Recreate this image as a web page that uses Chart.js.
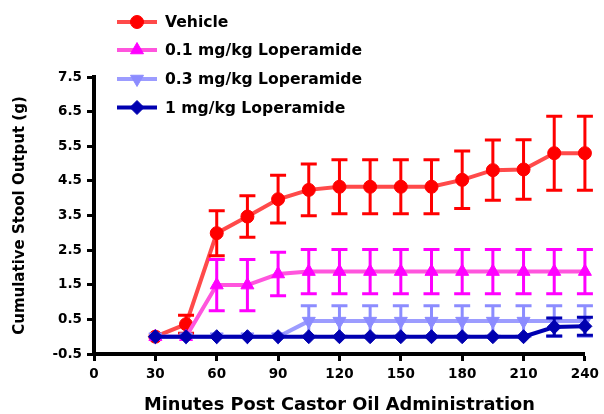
<!DOCTYPE html>
<html><head><meta charset="utf-8">
<script src="https://cdn.jsdelivr.net/npm/chart.js@4.4.1/dist/chart.umd.min.js"></script>
<style>html,body{margin:0;padding:0;background:#fff;}#wrap{width:604px;height:414px;}</style>
</head><body><div id="wrap"><canvas id="c" width="604" height="414"></canvas></div>
<script>
const minutes = [30,45,60,75,90,105,120,135,150,165,180,195,210,225,240];
const seriesLabels = ['Vehicle','0.1 mg/kg Loperamide','0.3 mg/kg Loperamide','1 mg/kg Loperamide'];
const vehicleMean = [0,0.36,2.99,3.47,3.97,4.24,4.33,4.33,4.33,4.33,4.53,4.81,4.83,5.30,5.30];
const vehicleSem  = [0,0.26,0.65,0.60,0.69,0.75,0.78,0.78,0.78,0.78,0.83,0.87,0.86,1.07,1.07];
const lop01Mean = [0,0,1.49,1.49,1.81,1.88,1.88,1.88,1.88,1.88,1.88,1.88,1.88,1.88,1.88];
const lop01Sem  = [0,0,0.74,0.74,0.63,0.64,0.64,0.64,0.64,0.64,0.64,0.64,0.64,0.64,0.64];
const lop03Mean = [0,0,0,0,0,0.45,0.45,0.45,0.45,0.45,0.45,0.45,0.45,0.45,0.45];
const lop03Sem  = [0,0,0,0,0,0.44,0.44,0.44,0.44,0.44,0.44,0.44,0.44,0.44,0.44];
const lop1Mean = [0,0,0,0,0,0,0,0,0,0,0,0,0,0.28,0.30];
const lop1Sem  = [0,0,0,0,0,0,0,0,0,0,0,0,0,0.26,0.26];
const xTicks = [0,30,60,90,120,150,180,210,240];
const yTicks = [-0.5,0.5,1.5,2.5,3.5,4.5,5.5,6.5,7.5];
const xTitle = 'Minutes Post Castor Oil Administration';
const yTitle = 'Cumulative Stool Output (g)';

const FONT = '"DejaVu Sans", sans-serif';
const pts = arr => minutes.map((m,i) => ({x:m, y:arr[i]}));

function mkDs(label, mean, sem, lineColor, markColor, style, radius, rotation, order){
  return {label, data: pts(mean), errors: sem, errorColor: markColor,
    borderColor: lineColor, backgroundColor: markColor, borderWidth: 4,
    pointStyle: style, pointRadius: radius, pointHoverRadius: radius, pointRotation: rotation,
    pointBackgroundColor: markColor, pointBorderColor: markColor, pointBorderWidth: 1,
    tension: 0, clip: false, order, showLine: true};
}

const datasets = [
  mkDs(seriesLabels[0], vehicleMean, vehicleSem, '#FF4A4A', '#FF0000', 'circle', 6.5, 0, 3),
  mkDs(seriesLabels[1], lop01Mean, lop01Sem, '#FF55DD', '#FF00FF', 'triangle', 7.5, 0, 2),
  mkDs(seriesLabels[2], lop03Mean, lop03Sem, '#9C9CFF', '#8C8CFF', 'triangle', 7.5, 180, 1),
  mkDs(seriesLabels[3], lop1Mean, lop1Sem, '#0000B0', '#0000B0', 'rectRot', 7, 0, 0)
];

const errorBars = {
  id: 'errorBars',
  afterDatasetDraw(chart, args){
    const ds = chart.data.datasets[args.index];
    const xs = chart.scales.x, ys = chart.scales.y, ctx = chart.ctx;
    ctx.save();
    ctx.strokeStyle = ds.errorColor; ctx.lineWidth = 3; ctx.lineCap = 'butt';
    ds.data.forEach((p,i) => {
      const e = ds.errors[i]; if (!e) return;
      const x = xs.getPixelForValue(p.x);
      const yt = ys.getPixelForValue(p.y + e), yb = ys.getPixelForValue(p.y - e);
      ctx.beginPath();
      ctx.moveTo(x, yt); ctx.lineTo(x, yb);
      ctx.moveTo(x-8, yt); ctx.lineTo(x+8, yt);
      ctx.moveTo(x-8, yb); ctx.lineTo(x+8, yb);
      ctx.stroke();
    });
    ctx.restore();
  }
};

const customLegend = {
  id: 'customLegend',
  afterDraw(chart){
    const ctx = chart.ctx;
    const rows = [22, 50, 79, 107.5];
    chart.data.datasets.forEach((ds, i) => {
      const y = rows[i];
      ctx.save();
      ctx.strokeStyle = ds.borderColor; ctx.lineWidth = 4;
      ctx.beginPath(); ctx.moveTo(117, y); ctx.lineTo(157, y); ctx.stroke();
      ctx.fillStyle = ds.pointBackgroundColor; ctx.strokeStyle = ds.pointBorderColor; ctx.lineWidth = 1;
      Chart.helpers.drawPoint(ctx, {pointStyle: ds.pointStyle, radius: ds.pointRadius, rotation: ds.pointRotation, borderWidth: 1}, 137, y);
      ctx.fillStyle = '#000'; ctx.font = 'bold 15.6px ' + FONT; ctx.textBaseline = 'middle'; ctx.textAlign = 'left';
      ctx.fillText(ds.label, 165, y + 1);
      ctx.restore();
    });
  }
};

new Chart(document.getElementById('c'), {
  type: 'line',
  data: { datasets },
  options: {
    responsive: false, animation: false, devicePixelRatio: 1,
    layout: { padding: { top: 77, right: 18, left: 0, bottom: 0 } },
    plugins: { legend: { display: false }, tooltip: { enabled: false } },
    scales: {
      x: {
        type: 'linear', min: 0, max: 240,
        afterBuildTicks: s => { s.ticks = xTicks.map(v => ({value: v})); },
        afterFit: s => { s.height = 60; },
        ticks: { color: '#000', font: { family: FONT, size: 13.5, weight: 'bold' }, padding: 5, maxRotation: 0, autoSkip: false },
        grid: { drawOnChartArea: false, drawTicks: true, tickLength: 7, tickWidth: 3, tickColor: '#000' },
        border: { display: true, width: 4, color: '#000' },
        title: { display: true, text: xTitle, color: '#000', font: { family: FONT, size: 17.8, weight: 'bold', lineHeight: 1 }, padding: { top: 0, bottom: 0 } }
      },
      y: {
        type: 'linear', min: -0.5, max: 7.5,
        afterBuildTicks: s => { s.ticks = yTicks.map(v => ({value: v})); },
        afterFit: s => { s.width = 94; },
        ticks: { color: '#000', font: { family: FONT, size: 13.5, weight: 'bold' }, padding: 5, callback: v => v.toFixed(1), autoSkip: false },
        grid: { drawOnChartArea: false, drawTicks: true, tickLength: 7, tickWidth: 3, tickColor: '#000' },
        border: { display: true, width: 4, color: '#000' },
        title: { display: true, text: yTitle, color: '#000', font: { family: FONT, size: 15, weight: 'bold' }, padding: { top: 11, bottom: 0 } }
      }
    }
  },
  plugins: [errorBars, customLegend]
});
</script></body></html>
